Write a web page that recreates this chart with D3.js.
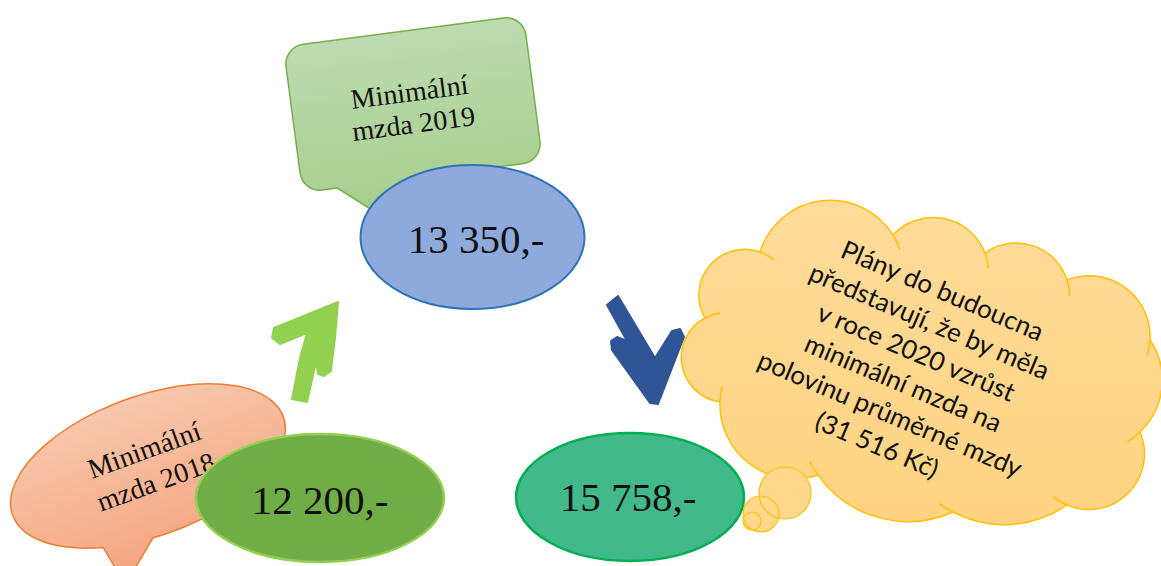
<!DOCTYPE html>
<html>
<head>
<meta charset="utf-8">
<script src="https://cdn.jsdelivr.net/npm/d3@7"></script>
<style>
  body { margin: 0; background: #fff; }
</style>
</head>
<body>
<div id="chart"></div>
<script>
// values
const years = ["2018", "2019"];
const wages = [12200, 13350, 15758];
const avgWage2020 = 31516;
const captionWord = "Minimální";
const captionSub = "mzda";
const planLines = [
    "Plány do budoucna",
    "představují, že by měla",
    "v roce 2020 vzrůst",
    "minimální mzda na",
    "polovinu průměrné mzdy"
];

const cz = d3.formatLocale({ decimal: ",", thousands: " ", grouping: [3], currency: ["", " Kč"] });
const fmt = cz.format(",d");
const money = v => fmt(v) + ",-";

const width = 1161;
const height = 566;

const svg = d3.select("#chart").append("svg")
    .attr("width", width)
    .attr("height", height)
    .attr("viewBox", [0, 0, width, height]);

const defs = svg.append("defs");
function vGrad(id, top, bottom) {
    const g = defs.append("linearGradient").attr("id", id)
        .attr("x1", 0).attr("y1", 0).attr("x2", 0).attr("y2", 1);
    g.append("stop").attr("offset", "0%").attr("stop-color", top);
    g.append("stop").attr("offset", "100%").attr("stop-color", bottom);
}
vGrad("gGreen", "#bddbb1", "#a6ce8c");
vGrad("gOrange", "#f8c7ad", "#f4a47e");
vGrad("gCloud", "#ffdc9b", "#ffd381");

const serif = "'Liberation Serif', 'Times New Roman', serif";
const sans = "Lato, 'Open Sans', sans-serif";

// ---- 2019 callout (rounded rectangle with tail) ----
{
    const w = 242, h = 147, r = 20;
    const x0 = -w / 2, x1 = w / 2, y0 = -h / 2, y1 = h / 2;
    const p = d3.path();
    p.moveTo(x0 + r, y0);
    p.lineTo(x1 - r, y0);
    p.arcTo(x1, y0, x1, y0 + r, r);
    p.lineTo(x1, y1 - r);
    p.arcTo(x1, y1, x1 - r, y1, r);
    p.lineTo(-10, y1);
    p.lineTo(-47, 106);
    p.lineTo(-86, y1);
    p.lineTo(x0 + r, y1);
    p.arcTo(x0, y1, x0, y1 - r, r);
    p.lineTo(x0, y0 + r);
    p.arcTo(x0, y0, x0 + r, y0, r);
    p.closePath();

    const g = svg.append("g").attr("transform", "translate(413,104) rotate(-7.5)");
    g.append("path")
        .attr("d", p.toString())
        .attr("fill", "url(#gGreen)")
        .attr("stroke", "#74b04b")
        .attr("stroke-width", 1.5);
    g.append("text")
        .attr("text-anchor", "middle")
        .attr("font-family", serif)
        .attr("font-size", 28)
        .attr("fill", "#111")
        .selectAll("tspan")
        .data([captionWord, `${captionSub} ${years[1]}`])
        .join("tspan")
        .attr("x", -2)
        .attr("y", (d, i) => -3 + i * 32)
        .text(d => d);
}

// ---- 2019 value ellipse ----
svg.append("ellipse")
    .attr("cx", 472.5).attr("cy", 237)
    .attr("rx", 112).attr("ry", 72)
    .attr("fill", "#8eaadc")
    .attr("stroke", "#2e75b6")
    .attr("stroke-width", 2);
svg.append("text")
    .attr("x", 476).attr("y", 239)
    .attr("text-anchor", "middle")
    .attr("dominant-baseline", "central")
    .attr("font-family", serif)
    .attr("font-size", 41)
    .attr("fill", "#111")
    .text(money(wages[1]));

// ---- arrows ----
const closed = d3.line().curve(d3.curveLinearClosed);
const upArrow = [[338, 302], [335, 338], [331, 371], [324, 376], [318, 374], [316, 362],
    [307, 402], [292, 399], [300, 358], [307, 333], [280, 344], [272, 338], [274, 328]];
const downArrow = [[607, 305], [618, 296], [655, 358], [672, 331], [680, 329], [684, 337],
    [658, 404], [650, 403], [612, 350], [611, 341], [617, 337], [627, 341]];
svg.append("path").attr("d", closed(upArrow))
    .attr("fill", "#92d050").attr("stroke", "#92d050")
    .attr("stroke-width", 2).attr("stroke-linejoin", "round");
svg.append("path").attr("d", closed(downArrow))
    .attr("fill", "#2f5597").attr("stroke", "#2f5597")
    .attr("stroke-width", 2).attr("stroke-linejoin", "round");

// ---- 2018 speech bubble ----
{
    const rx = 144, ry = 70;
    const yAt = x => ry * Math.sqrt(1 - (x / rx) * (x / rx));
    const d = `M-20,${yAt(-20)} A${rx},${ry} 0 1 0 -70,${yAt(-70)} L-62,104 Z`;
    const g = svg.append("g").attr("transform", "translate(148,466) rotate(-20)");
    g.append("path")
        .attr("d", d)
        .attr("fill", "url(#gOrange)")
        .attr("stroke", "#ed7d31")
        .attr("stroke-width", 1.5);
    g.append("text")
        .attr("text-anchor", "middle")
        .attr("dominant-baseline", "central")
        .attr("font-family", serif)
        .attr("font-size", 28)
        .attr("fill", "#111")
        .selectAll("tspan")
        .data([captionWord, `${captionSub} ${years[0]}`])
        .join("tspan")
        .attr("x", 2)
        .attr("y", (d, i) => -17 + i * 34)
        .text(d => d);
}

// ---- 2018 value ellipse ----
svg.append("ellipse")
    .attr("cx", 320).attr("cy", 498)
    .attr("rx", 124).attr("ry", 64)
    .attr("fill", "#70ad47")
    .attr("stroke", "#92d050")
    .attr("stroke-width", 2.5);
svg.append("text")
    .attr("x", 320).attr("y", 500)
    .attr("text-anchor", "middle")
    .attr("dominant-baseline", "central")
    .attr("font-family", serif)
    .attr("font-size", 41)
    .attr("fill", "#111")
    .text(money(wages[0]));

// ---- 2020 value ellipse ----
svg.append("ellipse")
    .attr("cx", 630).attr("cy", 497)
    .attr("rx", 114).attr("ry", 64)
    .attr("fill", "#42b98a")
    .attr("stroke", "#00b050")
    .attr("stroke-width", 2.5);
svg.append("text")
    .attr("x", 628).attr("y", 497)
    .attr("text-anchor", "middle")
    .attr("dominant-baseline", "central")
    .attr("font-family", serif)
    .attr("font-size", 41)
    .attr("fill", "#111")
    .text(money(wages[2]));

// ---- thought cloud ----
// notch points around the cloud (clockwise) and the bulge of each bump
const notches = [[705, 318], [760, 252], [893, 235], [985, 253], [1067, 280], [1150, 340],
    [1140, 432], [1067, 505], [953, 512], [818, 475], [720, 402]];
const bulges = [30, 43, 26, 22, 28, 17, 35, 16, 25, 32, 31];

function bump(a, b, s) {
    const dx = b[0] - a[0], dy = b[1] - a[1];
    const c = Math.hypot(dx, dy);
    const r = (c * c / 4 + s * s) / (2 * s);
    const ux = dx / c, uy = dy / c;
    const nx = uy, ny = -ux; // outward
    const mx = (a[0] + b[0]) / 2, my = (a[1] + b[1]) / 2;
    const cx = mx - nx * (r - s), cy = my - ny * (r - s);
    return { r, cx, cy };
}

let cloudD = `M${notches[0][0]},${notches[0][1]}`;
const flicks = [];
notches.forEach((a, i) => {
    const b = notches[(i + 1) % notches.length];
    const { r, cx, cy } = bump(a, b, bulges[i]);
    cloudD += ` A${r},${r} 0 0 1 ${b[0]},${b[1]}`;
    const angB = Math.atan2(b[1] - cy, b[0] - cx);
    const ext = 16 / r;
    const ex = cx + r * Math.cos(angB + ext), ey = cy + r * Math.sin(angB + ext);
    flicks.push(`M${b[0]},${b[1]} A${r},${r} 0 0 1 ${ex},${ey}`);
});
cloudD += " Z";

svg.append("path")
    .attr("d", cloudD)
    .attr("fill", "url(#gCloud)")
    .attr("stroke", "#ffc000")
    .attr("stroke-width", 1.5);
svg.append("path")
    .attr("d", flicks.join(" "))
    .attr("fill", "none")
    .attr("stroke", "#ffc000")
    .attr("stroke-width", 1.5);

const bubbles = [[785, 493, 26], [761, 514, 18], [752, 521, 9]];
const bub = svg.append("g");
bub.selectAll("circle.f").data(bubbles).join("circle")
    .attr("class", "f")
    .attr("cx", d => d[0]).attr("cy", d => d[1]).attr("r", d => d[2])
    .attr("fill", "#ffd88e");
bub.selectAll("circle.s").data(bubbles).join("circle")
    .attr("class", "s")
    .attr("cx", d => d[0]).attr("cy", d => d[1]).attr("r", d => d[2])
    .attr("fill", "none")
    .attr("stroke", "#ffc000")
    .attr("stroke-width", 1.2);

const allLines = planLines.concat([`(${fmt(avgWage2020)} Kč)`]);
svg.append("g")
    .attr("transform", "translate(910,367) rotate(23)")
    .append("text")
    .attr("text-anchor", "middle")
    .attr("dominant-baseline", "central")
    .attr("font-family", sans)
    .attr("font-size", 26)
    .attr("fill", "#111")
    .selectAll("tspan")
    .data(allLines)
    .join("tspan")
    .attr("x", 0)
    .attr("y", (d, i) => (i - (allLines.length - 1) / 2) * 33.5)
    .text(d => d);
</script>
</body>
</html>
